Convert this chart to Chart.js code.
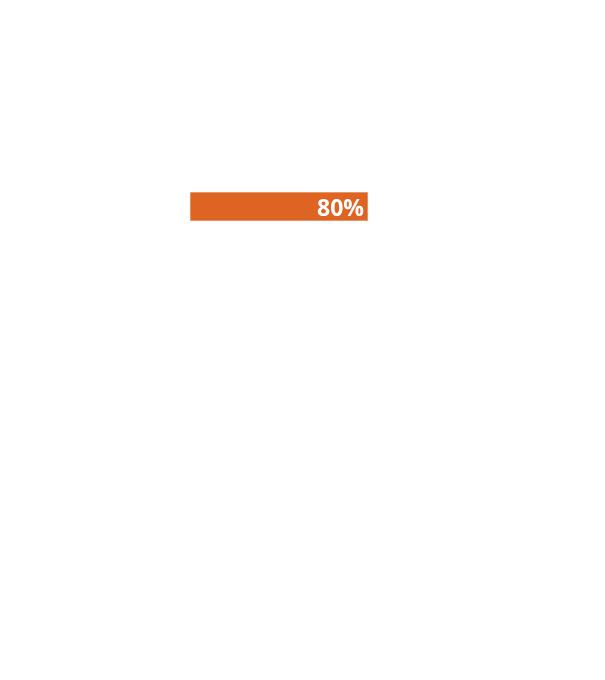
<!DOCTYPE html>
<html>
<head>
<meta charset="utf-8">
<script src="https://cdn.jsdelivr.net/npm/chart.js@4"></script>
<style>
html,body{margin:0;padding:0;background:#fff;}
#wrap{width:605px;height:680px;position:relative;}
</style>
</head>
<body>
<div id="wrap"><canvas id="c"></canvas></div>
<script>
const categories = ["Progress"];
const values = [80];
const valueLabels = ["80%"];

const labelPlugin = {
  id: 'endLabel',
  afterDatasetsDraw(chart) {
    const ctx = chart.ctx;
    const meta = chart.getDatasetMeta(0);
    meta.data.forEach((bar, i) => {
      ctx.save();
      ctx.fillStyle = '#ffffff';
      ctx.font = 'bold 23px "Open Sans", "Noto Sans", sans-serif';
      ctx.textAlign = 'right';
      ctx.textBaseline = 'middle';
      ctx.fillText(valueLabels[i], bar.x - 4, bar.y + 2.5);
      ctx.restore();
    });
  }
};

new Chart(document.getElementById('c'), {
  type: 'bar',
  data: {
    labels: categories,
    datasets: [{
      data: values,
      backgroundColor: '#DD6423',
      borderColor: '#F0A77C',
      borderWidth: 1,
      borderSkipped: false,
      barPercentage: 1,
      categoryPercentage: 1
    }]
  },
  options: {
    indexAxis: 'y',
    responsive: true,
    maintainAspectRatio: false,
    animation: false,
    layout: { padding: { left: 190, right: 192.5, top: 192, bottom: 459 } },
    scales: {
      x: { display: false, min: 0, max: 100 },
      y: { display: false }
    },
    plugins: { legend: { display: false }, tooltip: { enabled: false } }
  },
  plugins: [labelPlugin]
});
</script>
</body>
</html>
